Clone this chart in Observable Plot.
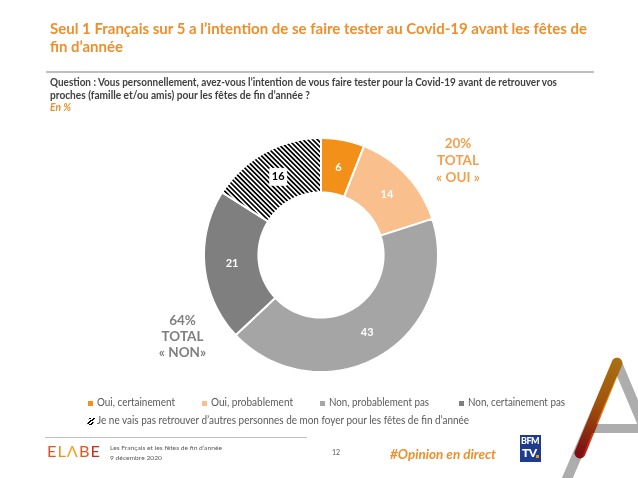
<!DOCTYPE html>
<html><head><meta charset="utf-8">
<script src="https://cdn.jsdelivr.net/npm/d3@7"></script>
<script src="https://cdn.jsdelivr.net/npm/@observablehq/plot@0.6"></script>
<style>
html,body{margin:0;padding:0;background:#fff;}
#page{position:relative;width:638px;height:478px;overflow:hidden;font-family:Lato,"Open Sans",sans-serif;background:#fff;}
.t{position:absolute;white-space:nowrap;line-height:1.2;transform-origin:0 0;}
#chart{position:absolute;left:202px;top:136px;}
</style></head><body><div id="page"></div>
<script>
// ---- data ----
const categories = ["Oui, certainement", "Oui, probablement", "Non, probablement pas", "Non, certainement pas",
  "Je ne vais pas retrouver d’autres personnes de mon foyer pour les fêtes de fin d’année"];
const values = [6, 14, 43, 21, 16];
const sliceColors = ["#F39019", "#F9C08D", "#A5A5A5", "#7F7F7F", "url(#hatch)"];
const totalValues = ["20%", "64%"];
const totalLines = [["TOTAL", "« OUI »"], ["TOTAL", "« NON»"]];
const titleLines = ["Seul 1 Français sur 5 a l’intention de se faire tester au Covid-19 avant les fêtes de", "fin d’année"];
const questionLines = ["Question : Vous personnellement, avez-vous l’intention de vous faire tester pour la Covid-19 avant de retrouver vos",
  "proches (famille et/ou amis) pour les fêtes de fin d’année ?"];
const unitLabel = "En %";
const footerLines = ["Les Français et les fêtes de fin d’année", "9 décembre 2020"];
const pageNumber = "12";
const hashtag = "#Opinion en direct";

const page = document.getElementById("page");
const ORANGE = "#EE8F2C";

function txt(s, o) {
  const el = document.createElement("div");
  el.className = "t";
  el.textContent = s;
  const probe = document.createElement("span");
  probe.style.cssText = "display:inline-block;width:0;height:0;vertical-align:baseline";
  el.appendChild(probe);
  Object.assign(el.style, {left: o.x + "px", top: "0px", fontSize: o.size + "px",
    fontWeight: o.weight || 400, color: o.color || "#404040", fontStyle: o.italic ? "italic" : "normal"});
  page.appendChild(el);
  const pr = page.getBoundingClientRect();
  const b = probe.getBoundingClientRect().top - pr.top;
  el.style.top = (o.base - b) + "px";
  if (o.w) {
    const r = el.getBoundingClientRect().width;
    el.style.transform = `scaleX(${o.w / r})`;
  }
  if (o.anchor === "middle") {
    const r = el.getBoundingClientRect().width;
    el.style.left = (o.x - r / 2) + "px";
  }
  return el;
}
function box(x, y, w, h, bg, extra) {
  const d = document.createElement("div");
  d.style.cssText = `position:absolute;left:${x}px;top:${y}px;width:${w}px;height:${h}px;background:${bg};` + (extra || "");
  page.appendChild(d);
  return d;
}

// ---- decorative "A" (ELABE) ----
page.insertAdjacentHTML("beforeend", `
<svg width="638" height="478" style="position:absolute;left:0;top:0">
 <defs><linearGradient id="ag" gradientUnits="userSpaceOnUse" x1="617" y1="363" x2="580" y2="455">
   <stop offset="0" stop-color="#F7A21B"/><stop offset="0.45" stop-color="#EE7A0E"/><stop offset="1" stop-color="#B5121B"/></linearGradient></defs>
 <line x1="617" y1="363" x2="560" y2="495" stroke="#ADADAD" stroke-width="10" stroke-linecap="round"/>
 <line x1="617" y1="363" x2="662" y2="470" stroke="#ADADAD" stroke-width="10" stroke-linecap="round"/>
 <rect x="588" y="424" width="60" height="9" fill="#ADADAD"/>
 <line x1="617" y1="363" x2="580" y2="453" stroke="url(#ag)" stroke-width="11" stroke-linecap="round" style="mix-blend-mode:multiply"/>
</svg>`);

// ---- header ----
txt(titleLines[0], {x: 50, base: 33.5, size: 15.5, weight: 700, color: ORANGE, w: 537});
txt(titleLines[1], {x: 50, base: 52, size: 15.5, weight: 700, color: ORANGE, w: 73});
box(46, 71, 548, 1.5, "#BFBFBF");
txt(questionLines[0], {x: 50, base: 85.5, size: 10.8, weight: 700, color: "#404040", w: 507});
txt(questionLines[1], {x: 50, base: 99, size: 10.8, weight: 700, color: "#404040", w: 260});
txt(unitLabel, {x: 50, base: 111, size: 10.8, weight: 700, color: ORANGE, italic: true, w: 21});

// ---- donut (Observable Plot) ----
const data = categories.map((c, i) => ({cat: c, value: values[i]}));
const arcs = d3.pie().sort(null).value(d => d.value)(data);
const rIn = 0.535, rOut = 1;
const ring = arcs.flatMap(p => d3.range(0, 81).map(k => {
  const a = p.startAngle + (p.endAngle - p.startAngle) * k / 80;
  return {cat: p.data.cat, x1: rIn * Math.sin(a), y1: rIn * Math.cos(a), x2: rOut * Math.sin(a), y2: rOut * Math.cos(a)};
}));
const labels = arcs.map(p => {
  const a = (p.startAngle + p.endAngle) / 2, r = (rIn + rOut) / 2;
  return {cat: p.data.cat, value: p.data.value, x: r * Math.sin(a), y: r * Math.cos(a), boxed: p.index === 4};
});
const chart = Plot.plot({
  width: 238, height: 238, margin: 2,
  x: {domain: [-1, 1], axis: null},
  y: {domain: [-1, 1], axis: null},
  color: {domain: categories, range: sliceColors},
  style: {background: "transparent", overflow: "visible", fontFamily: "Lato, sans-serif"},
  marks: [
    Plot.area(ring, {x1: "x1", y1: "y1", x2: "x2", y2: "y2", z: "cat", fill: "cat", stroke: "white", strokeWidth: 2}),
    Plot.dot(labels.filter(d => d.boxed), {x: "x", y: "y", symbol: "square", r: 9.5, fill: "white", stroke: "white", strokeWidth: 1}),
    Plot.text(labels, {x: "x", y: "y", text: "value", fill: d => d.boxed ? "black" : "white",
      fontWeight: "bold", fontSize: 11})
  ]
});
chart.id = "chart";
const defs = d3.select(chart).insert("defs", ":first-child");
const pat = defs.append("pattern").attr("id", "hatch").attr("patternUnits", "userSpaceOnUse")
  .attr("width", 3.4).attr("height", 3.4).attr("patternTransform", "rotate(-45)");
pat.append("rect").attr("width", 3.4).attr("height", 3.4).attr("fill", "white");
pat.append("rect").attr("width", 1.7).attr("height", 3.4).attr("fill", "black");
page.appendChild(chart);

// ---- totals ----
const totColors = ["#F2A04C", "#7F7F7F"];
const totPos = [{x: 458, b: [148, 165, 182]}, {x: 182.5, b: [325, 341, 357]}];
totalValues.forEach((v, i) => {
  const lines = [v, ...totalLines[i]];
  lines.forEach((s, j) => txt(s, {x: totPos[i].x, base: totPos[i].b[j], size: 13.5, weight: 700, color: totColors[i], anchor: "middle"}));
});

// ---- legend ----
const legendPos = [{sx: 88, tx: 96.5, w: 78}, {sx: 202, tx: 210.5, w: 82}, {sx: 320, tx: 328.5, w: 100}, {sx: 459, tx: 468, w: 97}];
for (let i = 0; i < 4; i++) {
  box(legendPos[i].sx, 401, 5, 5, sliceColors[i]);
  txt(categories[i], {x: legendPos[i].tx, base: 406, size: 10.8, color: "#595959", w: legendPos[i].w});
}
box(87.5, 418, 6, 7, "repeating-linear-gradient(135deg,#000 0 1.6px,#fff 1.6px 3.2px)", "transform:skewX(-20deg);");
txt(categories[4], {x: 96.5, base: 424, size: 10.8, color: "#595959", w: 372});

// ---- footer ----
box(45, 437, 262, 1, "#BFBFBF");
const elabe = document.createElement("div");
elabe.className = "t";
elabe.innerHTML = '<span style="color:#E8501E">E</span><span style="color:#F08A1C">L</span><span style="color:#F5A21F">Λ</span><span style="color:#E4581C">B</span><span style="color:#D42A1E">E</span>';
Object.assign(elabe.style, {left: "46.5px", top: "441px", fontSize: "16px", fontWeight: 400, letterSpacing: "1px"});
page.appendChild(elabe);
elabe.style.transform = `scaleX(${54 / elabe.getBoundingClientRect().width})`;
txt(footerLines[0], {x: 110, base: 449.5, size: 6.5, color: "#595959", w: 112});
txt(footerLines[1], {x: 110, base: 460, size: 6.5, color: "#595959", w: 52});
txt(pageNumber, {x: 332, base: 455, size: 7, color: "#595959"});
txt(hashtag, {x: 390, base: 459, size: 14, weight: 700, italic: true, color: ORANGE, w: 106});
// BFM TV logo
const bfm = box(520, 435, 21, 27, "#1E3C8F", "overflow:hidden;");
bfm.innerHTML = '<div style="position:absolute;left:1px;top:1px;font:900 9px Lato,sans-serif;color:#fff;letter-spacing:-0.5px;line-height:10px">BFM</div>' +
  '<div style="position:absolute;left:2px;top:11px;font:900 12px Lato,sans-serif;color:#fff;letter-spacing:-0.5px;line-height:13px">TV</div>' +
  '<div style="position:absolute;left:16px;top:20px;width:3px;height:3px;background:#F39019"></div>';
</script></body></html>
